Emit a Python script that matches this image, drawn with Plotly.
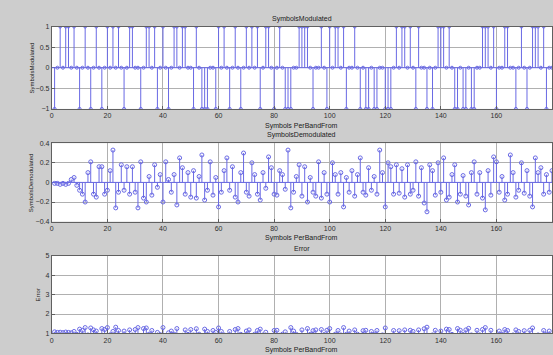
import plotly.graph_objects as go

# ---------------- data ----------------
n_samples = 180
mod_pos_idx = [3, 5, 6, 8, 12, 16, 20, 22, 24, 28, 29, 34, 35, 37, 40, 44, 45, 47, 48, 52,
               60, 62, 66, 70, 72, 74, 77, 78, 82, 89, 90, 91, 92, 97, 100, 102, 103, 105, 109,
               124, 126, 127, 129, 132, 139, 140, 141, 143, 155, 156, 157, 159, 163, 164, 169,
               173, 174, 175, 177]
mod_neg_idx = [1, 10, 14, 18, 26, 32, 38, 42, 51, 54, 55, 56, 59, 64, 68, 75, 80, 84, 85, 86,
               94, 99, 106, 111, 113, 114, 116, 117, 120, 121, 122, 131, 135, 137, 145, 146,
               148, 149, 151, 152, 160, 167, 171, 178]

demod = [-0.01, -0.01, -0.02, -0.01, -0.02, -0.01, 0.03, 0.05, -0.03, -0.08,
         -0.12, -0.20, 0.10, 0.21, -0.12, -0.15, 0.16, 0.16, -0.12, -0.08,
         0.12, 0.33, -0.26, -0.10, 0.18, -0.08, 0.16, -0.12, 0.16, -0.10,
         -0.26, 0.21, -0.16, -0.20, 0.06, -0.13, 0.18, -0.05, 0.08, -0.20,
         0.21, 0.03, -0.10, 0.08, -0.23, 0.25, 0.15, -0.12, 0.10, -0.15,
         0.12, -0.16, 0.06, 0.28, -0.18, -0.08, 0.21, -0.13, 0.05, -0.25,
         -0.10, 0.12, 0.25, -0.08, 0.16, -0.15, -0.20, 0.10, 0.30, -0.10,
         -0.14, 0.20, 0.08, -0.12, -0.18, 0.10, -0.06, 0.26, 0.15, -0.12,
         -0.13, 0.12, 0.08, -0.07, 0.33, -0.26, -0.10, 0.06, 0.18, -0.14,
         0.16, -0.20, 0.05, -0.10, -0.14, 0.21, -0.16, 0.10, -0.12, -0.20,
         0.20, 0.08, -0.12, 0.10, -0.25, 0.05, -0.10, 0.12, -0.14, 0.08,
         0.25, -0.10, -0.13, 0.15, -0.08, 0.06, -0.12, 0.33, 0.10, -0.25,
         0.20, 0.16, -0.12, 0.18, -0.11, 0.14, -0.15, 0.18, -0.12, -0.08,
         0.21, -0.14, 0.15, -0.21, -0.30, 0.18, 0.12, -0.13, 0.20, -0.10,
         0.25, -0.18, -0.15, 0.08, 0.18, -0.20, -0.12, 0.07, -0.14, -0.23,
         0.10, 0.21, -0.12, 0.10, -0.16, -0.28, 0.12, -0.13, 0.26, 0.21,
         -0.10, 0.06, -0.18, -0.12, 0.28, 0.10, -0.15, -0.08, 0.20, -0.11,
         0.12, -0.14, -0.25, 0.25, 0.10, 0.15, -0.12, 0.08, -0.10, 0.12]

error = [1.08, 1.05, 1.06, 1.04, 1.07, 1.05, 1.03, 1.10, 0.95, 1.22,
         1.15, 1.30, 0.92, 1.28, 1.18, 1.12, 0.90, 1.25, 1.20, 1.30,
         0.93, 1.10, 1.32, 1.15, 0.88, 1.12, 0.90, 1.18, 0.92, 1.20,
         1.30, 0.85, 1.25, 1.28, 0.96, 1.15, 0.88, 1.05, 0.94, 1.30,
         0.86, 1.03, 1.12, 0.96, 1.25, 0.80, 0.90, 1.18, 0.95, 1.20,
         0.92, 1.24, 0.96, 0.78, 1.22, 1.10, 0.85, 1.15, 1.05, 1.28,
         1.10, 0.92, 0.80, 1.10, 0.88, 1.20, 1.25, 0.95, 0.75, 1.12,
         1.18, 0.85, 0.96, 1.15, 1.22, 0.92, 1.06, 0.78, 0.88, 1.15,
         1.16, 0.90, 0.96, 1.08, 0.70, 1.30, 1.12, 0.95, 0.86, 1.18,
         0.88, 1.25, 0.95, 1.14, 1.18, 0.82, 1.20, 0.94, 1.16, 1.25,
         0.82, 0.96, 1.15, 0.92, 1.30, 0.95, 1.12, 0.90, 1.18, 0.96,
         0.78, 1.14, 1.16, 0.88, 1.10, 0.96, 1.15, 0.70, 0.92, 1.28,
         0.82, 0.88, 1.15, 0.85, 1.14, 0.90, 1.18, 0.85, 1.16, 1.10,
         0.82, 1.18, 0.88, 1.24, 1.32, 0.85, 0.92, 1.16, 0.84, 1.12,
         0.78, 1.22, 1.20, 0.95, 0.84, 1.25, 1.16, 0.94, 1.18, 1.26,
         0.92, 0.82, 1.16, 0.92, 1.20, 1.30, 0.90, 1.16, 0.78, 0.82,
         1.12, 0.96, 1.20, 1.15, 0.75, 0.92, 1.18, 1.10, 0.82, 1.14,
         0.90, 1.16, 1.28, 0.78, 0.92, 0.86, 1.15, 0.95, 1.12, 0.90]

x_ticks = [0, 20, 40, 60, 80, 100, 120, 140, 160, 180]
y1_ticks = [-1, -0.5, 0, 0.5, 1]
y2_ticks = [-0.4, -0.2, 0, 0.2, 0.4]
y3_ticks = [1, 2, 3, 4, 5]
titles = ["SymbolsModulated", "SymbolsDemodulated", "Error"]
xlabel = "Symbols PerBandFrom"
ylabels = ["SymbolsModulated", "SymbolsDemodulated", "Error"]

# build modulated series
modulated = [0] * n_samples
for i in mod_pos_idx:
    modulated[i - 1] = 1
for i in mod_neg_idx:
    modulated[i - 1] = -1

STEM = "rgb(105,105,228)"
W, H = 553, 355
FONT = "Liberation Sans, Arial, sans-serif"

fig = go.Figure()


def add_stem(xs, ys, xa, ya, msize):
    lx, ly = [], []
    for a, b in zip(xs, ys):
        lx += [a, a, None]
        ly += [0, b, None]
    fig.add_trace(go.Scatter(x=lx, y=ly, mode="lines", xaxis=xa, yaxis=ya,
                             line=dict(color=STEM, width=1), hoverinfo="skip",
                             showlegend=False))
    fig.add_trace(go.Scatter(x=xs, y=ys, mode="markers", xaxis=xa, yaxis=ya,
                             marker=dict(symbol="circle-open", size=msize,
                                         color=STEM, line=dict(width=1, color=STEM)),
                             showlegend=False))


series = [modulated, demod, error]
msizes = [3, 4, 4]
for k, ys in enumerate(series):
    xs = list(range(1, len(ys) + 1))
    sfx = "" if k == 0 else str(k + 1)
    add_stem(xs, ys, "x" + sfx, "y" + sfx, msizes[k])

# pixel layout of axes (top, bottom) in px
x_left, x_right = 50, 552
boxes = [(23, 107), (142, 222), (257, 336)]
yranges = [[-1, 1], [-0.4, 0.4], [1, 5]]
yticks = [y1_ticks, y2_ticks, y3_ticks]

axis_common = dict(showgrid=True, gridcolor="#b0b0b0", gridwidth=1,
                   showline=True, mirror=True, linecolor="#606060", linewidth=1,
                   ticks="inside", ticklen=3, tickcolor="#606060",
                   tickfont=dict(size=7, color="#303030", family=FONT),
                   zeroline=False)

layout = dict(width=W, height=H, margin=dict(l=0, r=0, t=0, b=0),
              paper_bgcolor="#cdcdcd", plot_bgcolor="white",
              showlegend=False, font=dict(family=FONT, size=7, color="#202020"))

annotations = []
shapes = []
for k in range(3):
    sfx = "" if k == 0 else str(k + 1)
    top, bot = boxes[k]
    layout["xaxis" + sfx] = dict(axis_common, domain=[x_left / W, x_right / W],
                                 range=[0, 180], tickvals=x_ticks,
                                 anchor="y" + sfx)
    layout["yaxis" + sfx] = dict(axis_common, domain=[1 - bot / H, 1 - top / H],
                                 range=yranges[k], tickvals=yticks[k],
                                 anchor="x" + sfx)
    # title
    annotations.append(dict(text=titles[k], x=(x_left + x_right) / 2 / W,
                            y=1 - (top - 2) / H, xref="paper", yref="paper",
                            xanchor="center", yanchor="bottom", showarrow=False,
                            font=dict(size=7, color="#202020")))
    # x label
    annotations.append(dict(text=xlabel, x=(x_left + x_right) / 2 / W,
                            y=1 - (bot + 11) / H, xref="paper", yref="paper",
                            xanchor="center", yanchor="top", showarrow=False,
                            font=dict(size=7, color="#202020")))
    # y label
    annotations.append(dict(text=ylabels[k], x=(30 if k < 2 else 36) / W,
                            y=1 - (top + bot) / 2 / H, xref="paper", yref="paper",
                            xanchor="center", yanchor="middle", textangle=-90,
                            showarrow=False, font=dict(size=6, color="#202020")))
    # stem baseline
    shapes.append(dict(type="line", xref="x" + sfx + " domain", yref="y" + sfx,
                       x0=0, x1=1, y0=0, y1=0, line=dict(color=STEM, width=1)))

layout["annotations"] = annotations
layout["shapes"] = shapes
fig.update_layout(**layout)
fig.write_html("out.html")
